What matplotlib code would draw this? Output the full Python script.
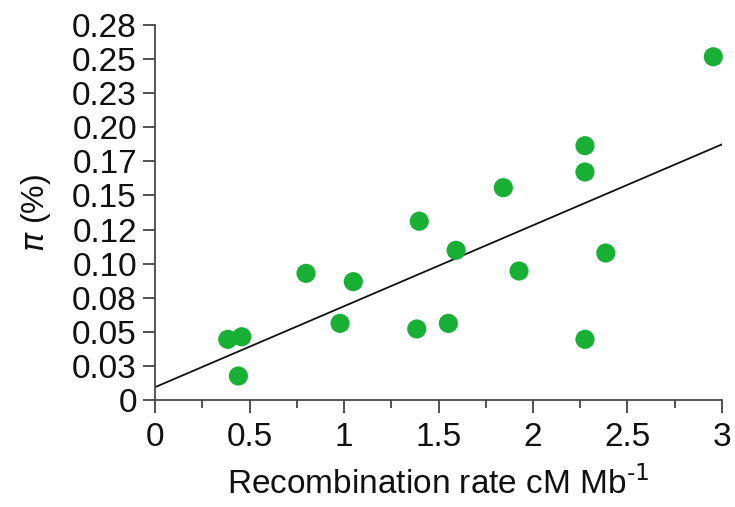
import numpy as np
import matplotlib
matplotlib.use("Agg")
import matplotlib.pyplot as plt
from matplotlib.ticker import MultipleLocator

plt.rcParams['font.family'] = ['Liberation Sans', 'DejaVu Sans']

# Recombination rate (cM/Mb) and nucleotide diversity pi (%)
recomb_rate = [2.954, 2.275, 2.275, 1.843, 1.398, 1.593, 2.385, 1.926, 1.385,
               1.552, 2.275, 0.799, 1.049, 0.979, 0.385, 0.459, 0.441]
pi_percent = [0.2517, 0.1865, 0.1672, 0.1557, 0.1311, 0.1098, 0.1078, 0.0946,
              0.0521, 0.0562, 0.0445, 0.0929, 0.0868, 0.0562, 0.0445, 0.0464,
              0.0176]

y_ticks = [0, 0.025, 0.05, 0.075, 0.10, 0.125, 0.15, 0.175, 0.20, 0.225, 0.25, 0.275]
y_tick_labels = ['0', '0.03', '0.05', '0.08', '0.10', '0.12', '0.15', '0.17',
                 '0.20', '0.23', '0.25', '0.28']
x_ticks = [0, 0.5, 1, 1.5, 2, 2.5, 3]
x_tick_labels = ['0', '0.5', '1', '1.5', '2', '2.5', '3']

FS = 24

fig = plt.figure(figsize=(7.35, 5.07), dpi=100)
ax = fig.add_axes([0.2109, 0.211, 0.7714, 0.7397])

ax.scatter(recomb_rate, pi_percent, s=190, color='#17B035', edgecolors='none',
           zorder=3, clip_on=False)

# least-squares regression line
slope, intercept = np.polyfit(recomb_rate, pi_percent, 1)
xs = np.array([0, 3])
ax.plot(xs, intercept + slope * xs, color='#111111', lw=1.3, zorder=2)

ax.set_xlim(0, 3)
ax.set_ylim(0, 0.275)
ax.set_xticks(x_ticks)
ax.set_xticklabels(x_tick_labels)
ax.xaxis.set_minor_locator(MultipleLocator(0.25))
ax.set_yticks(y_ticks)
ax.set_yticklabels(y_tick_labels)

for side in ['top', 'right']:
    ax.spines[side].set_visible(False)
for side in ['left', 'bottom']:
    ax.spines[side].set_color('#4a4a4a')
    ax.spines[side].set_linewidth(1.3)

ax.tick_params(axis='both', which='major', direction='out', length=9,
               width=1.2, color='#333333', labelsize=FS, labelcolor='#111111')
ax.tick_params(axis='x', which='major', pad=7)
ax.tick_params(axis='y', which='major', pad=4)
ax.tick_params(axis='x', which='minor', direction='out', length=6,
               width=1.2, color='#333333')

ax.set_xlabel(r'Recombination rate cM Mb$^{\text{-1}}$', fontsize=FS,
              color='#111111', labelpad=9)
ax.set_ylabel(r'$\pi$ (%)', fontsize=FS - 1, color='#111111', labelpad=14)

fig.savefig('out.png', dpi=100)
